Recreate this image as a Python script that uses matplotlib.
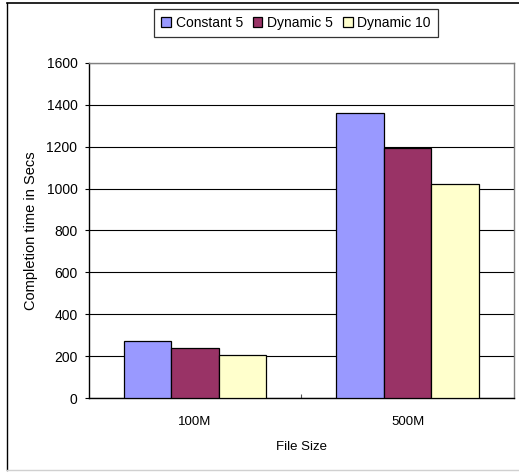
import matplotlib
matplotlib.use("Agg")
import matplotlib.pyplot as plt
from matplotlib.lines import Line2D
import numpy as np

plt.rcParams['font.family'] = ['Liberation Sans', 'DejaVu Sans']

sizes = ['100M', '500M']
series = ['Constant 5', 'Dynamic 5', 'Dynamic 10']
constant5 = [273, 1363]
dynamic5 = [240, 1195]
dynamic10 = [206, 1020]
colors = ['#9999FF', '#993366', '#FFFFCC']

W, H = 519, 474
fig = plt.figure(figsize=(W / 100, H / 100), dpi=100)
ax = fig.add_axes([88.5 / W, (H - 398) / H, (514 - 88.5) / W, (398 - 63) / H])

x = np.arange(len(sizes))
bw = 0.223
for i, (vals, c, name) in enumerate(zip([constant5, dynamic5, dynamic10], colors, series)):
    ax.bar(x + (i - 1) * bw, vals, bw, color=c, edgecolor='black', linewidth=0.9,
           label=name, zorder=3)

ax.set_xlim(-0.5, 1.5)
ax.set_ylim(0, 1600)
ax.set_yticks(range(0, 1601, 200))
ax.yaxis.grid(True, color='black', linewidth=0.8, zorder=0)
ax.set_xticks(x)
ax.set_xticklabels(sizes)
ax.set_xticks([0.5], minor=True)
ax.tick_params(axis='x', which='major', length=0, pad=13, labelsize=9.5)
ax.tick_params(axis='x', which='minor', direction='in', length=3, width=0.8, color='#555555')
ax.tick_params(axis='y', direction='out', length=3, width=0.8, pad=5, labelsize=10)

for s in ['top', 'right']:
    ax.spines[s].set_color('#808080')
    ax.spines[s].set_linewidth(1.0)
for s in ['left', 'bottom']:
    ax.spines[s].set_color('black')
    ax.spines[s].set_linewidth(1.0)

ax.set_xlabel('File Size', fontsize=9.5, labelpad=9)
ax.set_ylabel('Completion time in Secs', fontsize=10.5, labelpad=6)

leg = fig.legend(loc='center', bbox_to_anchor=(296 / W, 1 - 23 / H), ncol=3,
                 fontsize=10, frameon=True, fancybox=False, edgecolor='black',
                 handlelength=0.7, handleheight=0.7, handletextpad=0.35,
                 columnspacing=0.7, borderpad=0.5, borderaxespad=0)
leg.get_frame().set_linewidth(0.9)

# outer border of the chart area
fig.add_artist(Line2D([7 / W, 7 / W], [1 - 3 / H, 1 - 470 / H], color='black', linewidth=1.0))
fig.add_artist(Line2D([7 / W, 1], [1 - 3 / H, 1 - 3 / H], color='black', linewidth=1.2))
fig.add_artist(Line2D([7 / W, 1], [1 - 470 / H, 1 - 470 / H], color='#d0d0d0', linewidth=1.0))

fig.savefig('out.png', dpi=100)
